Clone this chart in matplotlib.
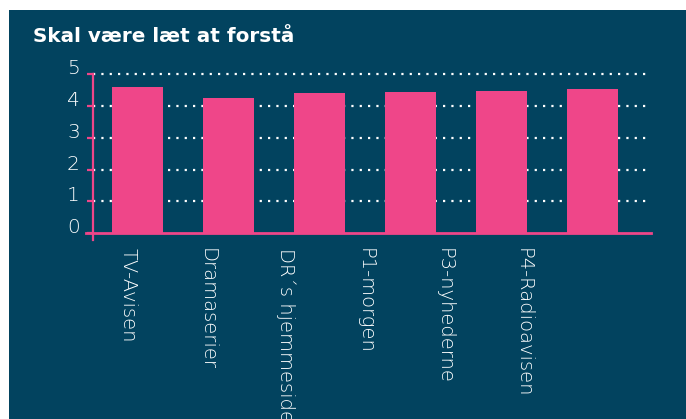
import matplotlib.pyplot as plt
from matplotlib.patches import Rectangle

# data
kanaler = ['TV-Avisen', 'Dramaserier', 'DR´s hjemmeside', 'P1-morgen', 'P3-nyhederne', 'P4-Radioavisen']
vurdering = [4.59, 4.25, 4.41, 4.44, 4.47, 4.53]
y_ticks = [0, 1, 2, 3, 4, 5]

bg = '#02435f'
pink = '#ef4689'
txt = '#ffffff'

plt.rcParams['font.family'] = ['DejaVu Sans']

fig = plt.figure(figsize=(6.86, 4.19), dpi=100, facecolor='white')
fig.patches.append(Rectangle((9 / 686, 0), 1, 409 / 419, transform=fig.transFigure,
                             facecolor=bg, edgecolor='none', zorder=-10))

ax = fig.add_axes([93 / 686, 179.3 / 419, 558 / 686, 165.7 / 419])
ax.set_facecolor('none')
ax.set_zorder(2)

x = list(range(len(kanaler)))
ax.bar(x, vurdering, width=0.56, color=pink, zorder=3)

ax.set_xlim(-0.489, 5.643)
ax.set_ylim(-0.2, 5)
ax.set_yticks(y_ticks)
ax.set_yticklabels([str(t) for t in y_ticks], fontsize=14.5, color=txt, fontweight=200)
for lab in ax.get_yticklabels():
    lab.set_va('baseline')

for t in y_ticks[1:]:
    ax.axhline(t, color='white', lw=1.6, dashes=(1, 2.75), dash_capstyle='butt',
               zorder=1, clip_on=False)

# baseline extends a bit left of the y axis
ax.axhline(0, xmin=-0.012, xmax=1, color=pink, lw=2, clip_on=False, zorder=4)

for s in ['top', 'right', 'bottom']:
    ax.spines[s].set_visible(False)
ax.spines['left'].set_color(pink)
ax.spines['left'].set_linewidth(1.6)
ax.tick_params(axis='y', colors=pink, length=4.5, width=1.6, pad=5, labelcolor=txt)

# category labels (spaced as in the original, not quite under the bars)
lab_pos = [-0.104 + 0.868 * i for i in x]
ax.set_xticks(lab_pos)
ax.set_xticklabels(kanaler, rotation=-90, fontsize=14, color=txt, fontweight=200,
                   va='top', ha='center')
ax.tick_params(axis='x', length=0, pad=6)

fig.text(33 / 686, 377 / 419, 'Skal være læt at forstå', fontsize=14.4, fontweight='bold',
         color='white', va='baseline', ha='left')

fig.savefig('out.png', dpi=100, facecolor=fig.get_facecolor())
